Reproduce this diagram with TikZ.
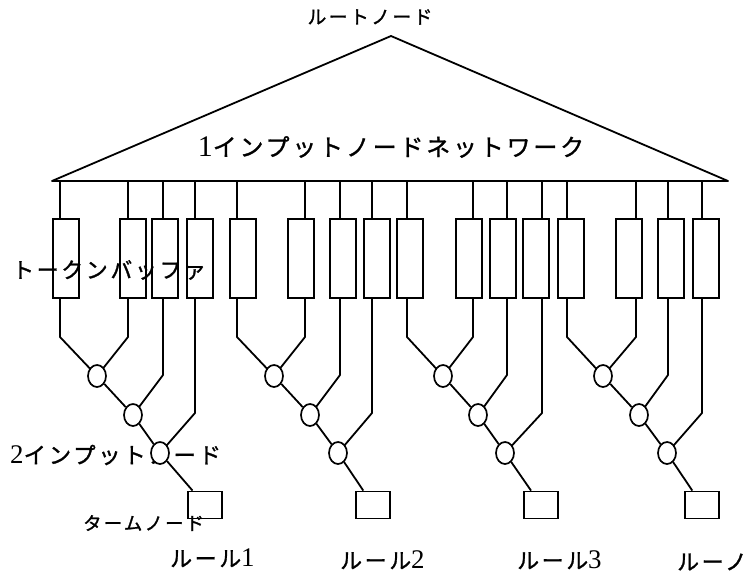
\documentclass[tikz,border=0pt]{standalone}
\usepackage{fontspec}
\setmainfont{Liberation Serif}
\newfontfamily\jp[LetterSpace=12, FakeBold=1.2]{Noto Sans CJK JP}
\newcommand{\digit}[2]{{\rmfamily\fontsize{#1}{#1}\selectfont #2}}
\usetikzlibrary{shapes.geometric}

\tikzset{
  wire/.style={line width=1.8bp, line join=round},
  buffer/.style={draw, line width=1.8bp, minimum width=26bp, minimum height=79bp, inner sep=0},
  joinnode/.style={draw, ellipse, fill=white, line width=1.7bp, minimum width=18bp, minimum height=22bp, inner sep=0},
  termnode/.style={draw, line width=1.8bp, minimum width=34bp, minimum height=27bp, inner sep=0},
  lbl/.style={inner sep=0, text=black},
}

\begin{document}
\begin{tikzpicture}[x=1bp, y=-1bp]
\useasboundingbox (0,0) rectangle (755,575);

% one-input node network
\coordinate (apex) at (391,36);
\coordinate (baseL) at (52,181);
\coordinate (baseR) at (728,181);
\draw[wire] (baseL) -- (apex) -- (baseR) -- cycle;

\node[lbl, font={\fontsize{19}{19}\selectfont\jp}] (root) at (370,17) {ルートノード};
\node[lbl, font={\fontsize{24}{24}\selectfont}] (net) at (391,147) {\digit{30}{1}\jp インプットノードネットワーク};

% token buffers: index / wire x / box centre x
\foreach \i/\lx/\bx in {1/60/66, 2/128/133, 3/163/165, 4/195/200,
                        5/237/243, 6/305/301, 7/340/343, 8/372/377,
                        9/407/410, 10/473/469, 11/507/503, 12/542/536,
                        13/567/571, 14/636/629, 15/668/671, 16/702/706} {
  \coordinate (t\i) at (\lx,181);
  \node[buffer] (b\i) at (\bx,258.5) {};
  \draw[wire] (t\i) -- (t\i |- b\i.north);
}

% labels set over the drawing
\node[lbl, anchor=west, font={\fontsize{22}{22}\selectfont\jp}] (buflbl) at (12,270) {トークンバッファ};
\node[lbl, anchor=west, font={\fontsize{22.5}{22.5}\selectfont}] (joinlbl) at (10,455) {\digit{27}{2}\jp インプットノード};
\node[lbl, anchor=west, font={\fontsize{18.5}{18.5}\selectfont\jp}] (termlbl) at (83,523) {タームノード};
\node[lbl, anchor=west, font={\fontsize{22}{22}\selectfont}] (r1) at (170,558) {\jp ルール\digit{27}{1}};
\node[lbl, anchor=west, font={\fontsize{22}{22}\selectfont}] (r2) at (340,560) {\jp ルール\digit{27}{2}};
\node[lbl, anchor=west, font={\fontsize{22}{22}\selectfont}] (r3) at (517,560) {\jp ルール\digit{27}{3}};
\node[lbl, anchor=west, font={\fontsize{22}{22}\selectfont\jp}] (r4) at (677,562) {ルーノ};

% two-input node chains and terminal nodes
\foreach \g/\p/\q/\r/\s/\ca/\cb/\cc/\tx in {1/1/2/3/4/97/133/160/205,
                                           2/5/6/7/8/274/310/338/373,
                                           3/9/10/11/12/443/478/505/541,
                                           4/13/14/15/16/603/639/667/702} {
  \node[termnode] (T\g) at (\tx,505) {};
  \draw[wire] (t\p |- b\p.south) -- (t\p |- 0,337) -- (\ca,376);
  \draw[wire] (t\q |- b\q.south) -- (t\q |- 0,337) -- (\ca,376);
  \draw[wire] (t\r |- b\r.south) -- (t\r |- 0,375) -- (\cb,415);
  \draw[wire] (t\s |- b\s.south) -- (t\s |- 0,413) -- (\cc,453);
  \node[joinnode] (j\g a) at (\ca,376) {};
  \node[joinnode] (j\g b) at (\cb,415) {};
  \node[joinnode] (j\g c) at (\cc,453) {};
  \draw[wire] (j\g a) -- (j\g b);
  \draw[wire] (j\g b) -- (j\g c);
  \draw[wire] (j\g c) -- (T\g);
}
\end{tikzpicture}
\end{document}
